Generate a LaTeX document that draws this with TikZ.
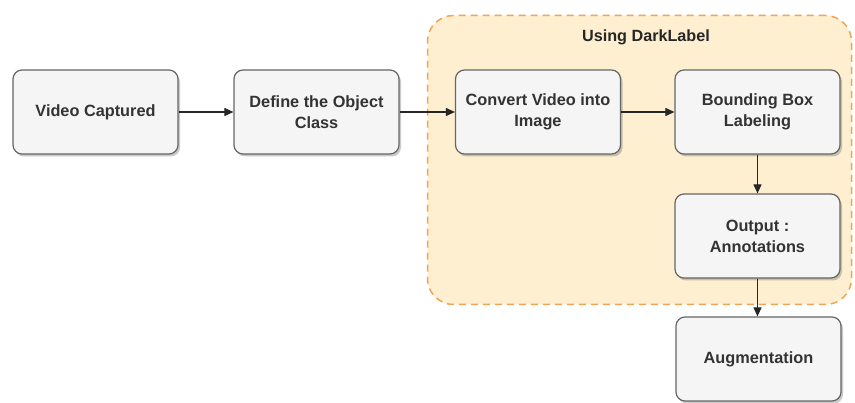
\documentclass[tikz,border=0pt]{standalone}
\usepackage{fontspec}
\setmainfont{Liberation Sans}
\usetikzlibrary{arrows.meta,shadows,positioning}
\definecolor{boxfill}{HTML}{F5F5F5}
\definecolor{boxline}{HTML}{666666}
\definecolor{groupfill}{HTML}{FDEFCF}
\definecolor{groupline}{HTML}{F2A456}
\tikzset{
  stepbox/.style={draw=boxline, line width=1.2pt, fill=boxfill, rounded corners=9pt,
    minimum width=165pt, minimum height=84pt, align=center,
    font=\fontsize{16.3}{21}\selectfont\bfseries, text=black!80,
    drop shadow={shadow xshift=2pt, shadow yshift=-2.5pt, opacity=0.35, fill=black!60}},
  flow/.style={draw=black!85, line width=1.1pt, -{Triangle[length=9pt,width=8pt]}},
}
\begin{document}
\begin{tikzpicture}[x=1pt,y=-1pt]
  \useasboundingbox (0,0) rectangle (855,403);
  % DarkLabel group
  \node[draw=groupline, fill=groupfill, dashed, dash pattern=on 7pt off 5pt, line width=1.5pt,
        rounded corners=26pt, minimum width=424pt, minimum height=289pt] (group) at (639.5,160) {};
  \node[font=\fontsize{16.2}{19}\selectfont\bfseries, text=black!85] (grouptitle) at (646,37) {Using DarkLabel};
  % Steps
  \node[stepbox] (video) at (95.5,112) {Video Captured};
  \node[stepbox] (define) at (316.5,112) {Define the Object\\Class};
  \node[stepbox] (convert) at (538,112) {Convert Video into\\Image};
  \node[stepbox] (bbox) at (757.5,112) {Bounding Box\\Labeling};
  \node[stepbox] (output) at (757.5,236) {Output :\\Annotations};
  \node[stepbox] (augment) at (758.5,359) {Augmentation};
  % Connectors
  \draw[flow] (video) -- (define);
  \draw[flow] (define) -- (convert);
  \draw[flow] (convert) -- (bbox);
  \draw[flow] (bbox) -- (output);
  \draw[flow] (output) -- (output |- augment.north);
\end{tikzpicture}
\end{document}
